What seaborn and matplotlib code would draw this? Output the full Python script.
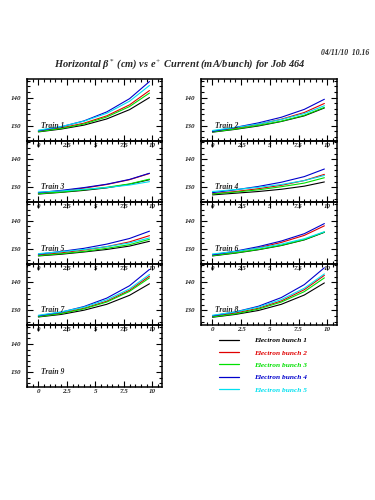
import numpy as np
import pandas as pd
import matplotlib
matplotlib.use("Agg")
import matplotlib.pyplot as plt
import seaborn as sns
from matplotlib.ticker import MultipleLocator

# ---------------- data ----------------
current = [0, 2, 4, 6, 8, 9.75]
bunches = ["Electron bunch 1", "Electron bunch 2", "Electron bunch 3",
           "Electron bunch 4", "Electron bunch 5"]
colors = ["#000000", "#e00000", "#00e000", "#0000cc", "#00e0f0"]

train1 = [[127.8, 128.8, 130.2, 132.4, 135.7, 140.0],
          [128.0, 129.2, 130.9, 133.5, 137.4, 142.5],
          [127.9, 129.0, 130.6, 133.1, 136.8, 141.6],
          [128.2, 129.6, 131.7, 134.9, 139.6, 145.7],
          [128.4, 129.7, 131.6, 134.4, 138.7, 144.3]]
train2 = [[127.7, 128.7, 129.9, 131.5, 133.5, 136.3],
          [127.9, 129.1, 130.5, 132.3, 134.7, 137.9],
          [127.8, 128.8, 130.1, 131.6, 133.7, 136.5],
          [128.0, 129.4, 131.0, 133.0, 135.8, 139.4],
          [128.3, 129.4, 130.6, 132.2, 134.3, 137.1]]
train3 = [[127.6, 128.2, 128.9, 129.8, 131.1, 132.7],
          [127.9, 128.7, 129.7, 131.0, 132.7, 134.9],
          [127.7, 128.3, 129.1, 130.0, 131.2, 132.9],
          [128.1, 128.9, 129.9, 131.1, 132.8, 135.0],
          [128.3, 128.7, 129.3, 129.9, 130.8, 132.0]]
train4 = [[127.3, 127.9, 128.5, 129.3, 130.4, 131.9],
          [127.7, 128.5, 129.5, 130.7, 132.4, 134.6],
          [127.6, 128.3, 129.1, 130.2, 131.5, 133.4],
          [128.1, 129.1, 130.3, 131.8, 133.8, 136.5],
          [128.5, 129.2, 130.0, 131.0, 132.4, 134.2]]
train5 = [[127.5, 128.1, 128.9, 129.8, 131.0, 132.7],
          [127.8, 128.6, 129.6, 130.8, 132.5, 134.7],
          [127.6, 128.3, 129.1, 130.2, 131.5, 133.4],
          [128.1, 129.1, 130.2, 131.7, 133.7, 136.3],
          [128.3, 129.0, 129.8, 130.8, 132.1, 133.9]]
train6 = [[127.5, 128.5, 129.7, 131.2, 133.2, 135.9],
          [127.7, 129.0, 130.4, 132.3, 134.8, 138.2],
          [127.6, 128.6, 129.8, 131.3, 133.3, 136.0],
          [127.9, 129.2, 130.8, 132.8, 135.4, 139.0],
          [128.2, 129.1, 130.3, 131.7, 133.6, 136.1]]
train7 = [[127.7, 128.6, 130.1, 132.2, 135.4, 139.5],
          [127.9, 129.0, 130.8, 133.3, 137.2, 142.2],
          [127.8, 128.9, 130.6, 133.0, 136.8, 141.6],
          [128.1, 129.4, 131.4, 134.4, 138.8, 144.6],
          [128.3, 129.5, 131.2, 133.8, 137.7, 142.8]]
train8 = [[127.6, 128.6, 130.0, 132.2, 135.5, 139.8],
          [127.9, 129.1, 130.8, 133.4, 137.4, 142.5],
          [127.7, 128.8, 130.5, 133.0, 136.7, 141.6],
          [128.1, 129.5, 131.5, 134.6, 139.2, 145.2],
          [128.3, 129.5, 131.2, 133.9, 137.9, 143.0]]
train9 = []

trains = {1: train1, 2: train2, 3: train3, 4: train4, 5: train5,
          6: train6, 7: train7, 8: train8, 9: train9}

x_ticks = [0, 2.5, 5, 7.5, 10]
x_tick_labels = ["0", "2.5", "5", "7.5", "10"]
y_ticks = [130, 140]
y_tick_labels = ["130", "140"]
title = "Horizontal β$^*$ (cm) vs e$^+$ Current (mA/bunch) for Job 464"
stamp = "04/11/10  10.16"

# ---------------- style ----------------
sns.set_style("ticks")
plt.rcParams["font.family"] = ["Liberation Serif", "DejaVu Serif"]
plt.rcParams["mathtext.fontset"] = "custom"
plt.rcParams["mathtext.rm"] = "Liberation Serif"
plt.rcParams["mathtext.it"] = "Liberation Serif:italic"

W, H = 375, 500
fig = plt.figure(figsize=(W / 100, H / 100), dpi=100)

top0 = 79.0
row_h = 61.6
col_left = [27, 201]
col_w = [135, 136]

font_kw = dict(fontstyle="italic", fontweight="bold")
legend_ax = None

for n in range(1, 10):
    col = 0 if n % 2 == 1 else 1
    row = (n - 1) // 2
    left = col_left[col]
    bottom = top0 + (row + 1) * row_h
    ax = fig.add_axes([left / W, 1 - bottom / H, col_w[col] / W, row_h / H])
    ax.patch.set_alpha(0)

    vals = trains[n]
    if vals:
        rows = []
        for b, series in zip(bunches, vals):
            for xv, yv in zip(current, series):
                rows.append((xv, yv, b))
        df = pd.DataFrame(rows, columns=["current", "beta", "bunch"])
        sns.lineplot(data=df, x="current", y="beta", hue="bunch",
                     hue_order=bunches, palette=colors, ax=ax,
                     linewidth=0.8, legend=(n == 8), estimator=None,
                     sort=False)
        if n == 8:
            legend_ax = ax

    ax.set_xlim(-1.0, 10.85)
    ax.set_ylim(124.7, 146.6)
    ax.set_xlabel("")
    ax.set_ylabel("")
    ax.set_xticks(x_ticks, labels=x_tick_labels, fontsize=5, **font_kw)
    ax.set_yticks(y_ticks, labels=y_tick_labels, fontsize=5, **font_kw)
    ax.xaxis.set_minor_locator(MultipleLocator(0.5))
    ax.yaxis.set_minor_locator(MultipleLocator(2))
    ax.tick_params(which="both", direction="in", top=True, right=True,
                   width=0.8, color="black")
    ax.tick_params(which="major", length=4)
    ax.tick_params(which="minor", length=2.2)
    ax.tick_params(axis="x", pad=1.5)
    ax.tick_params(axis="y", pad=4)
    for s in ax.spines.values():
        s.set_linewidth(1.1)
        s.set_color("black")
    ax.text(0.2, 130, f"Train {n}", fontsize=5.5, va="center", ha="left",
            **font_kw)

# legend
if legend_ax is not None:
    leg = legend_ax.legend(loc="upper left", bbox_to_anchor=(219 / W, 1 - 337 / H),
                           bbox_transform=fig.transFigure, frameon=False,
                           prop={"size": 5.3, "style": "italic", "weight": "bold"},
                           handlelength=2.7, handletextpad=2.1, labelspacing=0.85,
                           borderpad=0, borderaxespad=0, labelcolor="linecolor")
    for line in leg.get_lines():
        line.set_linewidth(0.9)

fig.text(180 / W, 1 - 64 / H, title, ha="center", va="center", fontsize=7.5,
         **font_kw)
fig.text(369 / W, 1 - 53 / H, stamp, ha="right", va="center", fontsize=5.5,
         **font_kw)

fig.savefig("out.png", dpi=100)
